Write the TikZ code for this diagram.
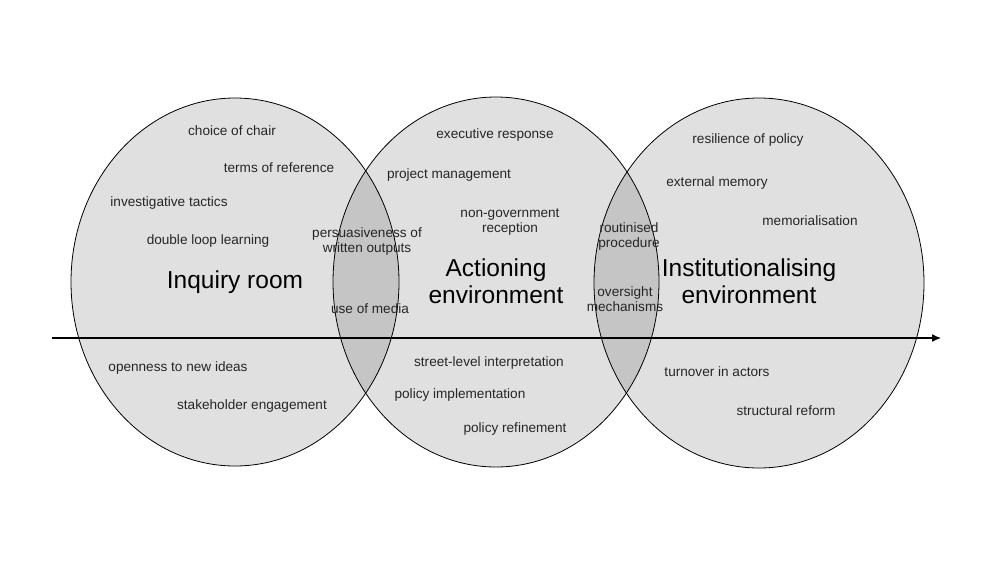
\documentclass[tikz,border=0pt]{standalone}
\usepackage{fontspec}
\setmainfont{Liberation Sans}
\usetikzlibrary{arrows.meta}
\begin{document}
\begin{tikzpicture}[x=1pt,y=-1pt,
  lbl/.style={font=\fontsize{13.6}{15}\selectfont,text=black!85,align=center,inner sep=0pt},
  ttl/.style={font=\fontsize{24.5}{27}\selectfont,align=center,inner sep=0pt,text=black}]
\useasboundingbox (0,0) rectangle (1006,566);
\draw[line width=0.8pt,fill=black,fill opacity=0.12] (235,282) ellipse [x radius=164, y radius=184];
\draw[line width=0.8pt,fill=black,fill opacity=0.12] (496,282) ellipse [x radius=163, y radius=185];
\draw[line width=0.8pt,fill=black,fill opacity=0.12] (759,283) ellipse [x radius=165, y radius=185];
\coordinate (a0) at (52,338); \coordinate (a1) at (941,338);
\draw[line width=1.2pt,-{Latex[length=9pt,width=8pt]}] (a0) -- (a1);
\node[ttl] (t1) at (235,282) {Inquiry room};
\node[ttl] (t2) at (496,281) {Actioning\\environment};
\node[ttl] (t3) at (749,281) {Institutionalising\\environment};
\node[lbl] at (232,131) {choice of chair};
\node[lbl] at (279,168) {terms of reference};
\node[lbl] at (169,203) {investigative tactics};
\node[lbl] at (208,241) {double loop learning};
\node[lbl] at (367,241) {persuasiveness of\\written outputs};
\node[lbl] at (370,309) {use of media};
\node[lbl] at (178,368) {openness to new ideas};
\node[lbl] at (252,406) {stakeholder engagement};
\node[lbl] at (495,135) {executive response};
\node[lbl] at (449,175) {project management};
\node[lbl] at (510,222) {non-government\\reception};
\node[lbl] at (489,363) {street-level interpretation};
\node[lbl] at (460,395) {policy implementation};
\node[lbl] at (515,429) {policy refinement};
\node[lbl] at (629,236) {routinised\\procedure};
\node[lbl] at (625,299) {oversight\\mechanisms};
\node[lbl] at (748,140) {resilience of policy};
\node[lbl] at (717,183) {external memory};
\node[lbl] at (810,221) {memorialisation};
\node[lbl] at (717,372) {turnover in actors};
\node[lbl] at (786,411) {structural reform};
\end{tikzpicture}
\end{document}
